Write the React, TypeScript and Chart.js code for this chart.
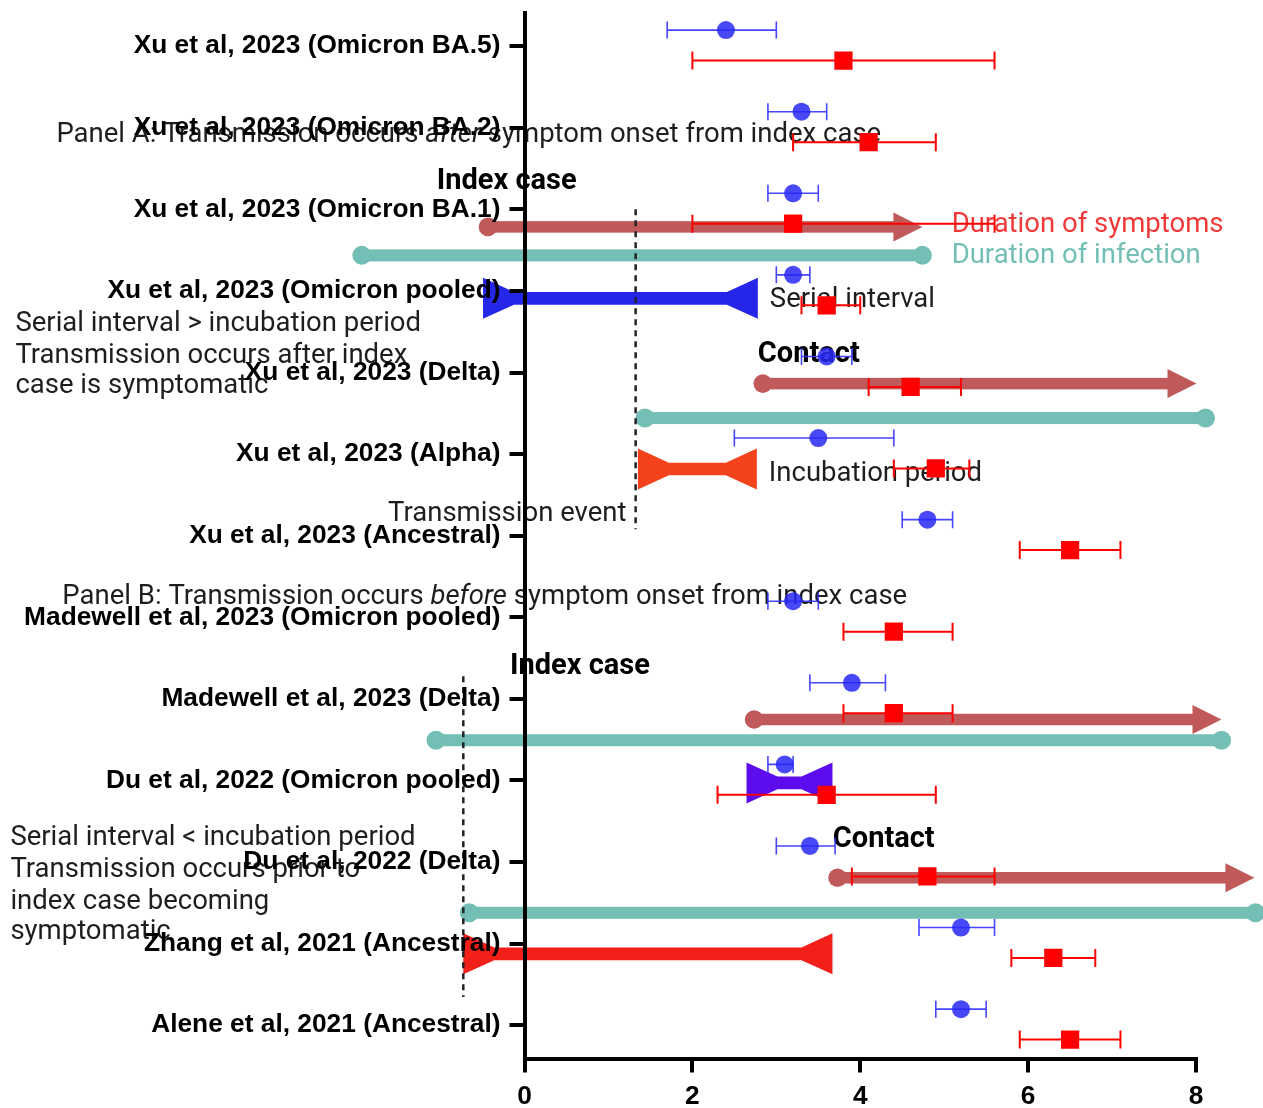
import React, { useEffect, useRef } from "react";
import { Chart, registerables } from "chart.js";

Chart.register(...registerables);

// ---------------- data ----------------
const studies = [
  "Xu et al, 2023 (Omicron BA.5)",
  "Xu et al, 2023 (Omicron BA.2)",
  "Xu et al, 2023 (Omicron BA.1)",
  "Xu et al, 2023 (Omicron pooled)",
  "Xu et al, 2023 (Delta)",
  "Xu et al, 2023 (Alpha)",
  "Xu et al, 2023 (Ancestral)",
  "Madewell et al, 2023 (Omicron pooled)",
  "Madewell et al, 2023 (Delta)",
  "Du et al, 2022 (Omicron pooled)",
  "Du et al, 2022 (Delta)",
  "Zhang et al, 2021 (Ancestral)",
  "Alene et al, 2021 (Ancestral)",
];

const serialMean = [2.4, 3.3, 3.2, 3.2, 3.6, 3.5, 4.8, 3.2, 3.9, 3.1, 3.4, 5.2, 5.2];
const serialLow = [1.7, 2.9, 2.9, 3.0, 3.3, 2.5, 4.5, 2.9, 3.4, 2.9, 3.0, 4.7, 4.9];
const serialHigh = [3.0, 3.6, 3.5, 3.4, 3.9, 4.4, 5.1, 3.5, 4.3, 3.2, 3.7, 5.6, 5.5];

const incubMean = [3.8, 4.1, 3.2, 3.6, 4.6, 4.9, 6.5, 4.4, 4.4, 3.6, 4.8, 6.3, 6.5];
const incubLow = [2.0, 3.2, 2.0, 3.3, 4.1, 4.4, 5.9, 3.8, 3.8, 2.3, 3.9, 5.8, 5.9];
const incubHigh = [5.6, 4.9, 5.6, 4.0, 5.2, 5.3, 7.1, 5.1, 5.1, 4.9, 5.6, 6.8, 7.1];

const xTicks = [0, 2, 4, 6, 8];

// ---------------- diagram annotations (in axis units) ----------------
const symptomArrows = [
  { x0: -0.435, x1: 4.74, y: 2.215 },
  { x0: 2.839, x1: 8.006, y: 4.136 },
  { x0: 2.736, x1: 8.304, y: 8.253 },
  { x0: 3.729, x1: 8.696, y: 10.193 },
];
const infectionLines = [
  { x0: -1.938, x1: 4.74, y: 2.564 },
  { x0: 1.435, x1: 8.113, y: 4.558 },
  { x0: -1.054, x1: 8.304, y: 8.507 },
  { x0: -0.657, x1: 8.708, y: 10.622 },
];
const intervalShapes = [
  { x0: -0.494, x1: 2.78, y: 3.091, color: "#2626e8" },
  { x0: 1.351, x1: 2.768, y: 5.183, color: "#f4431c" },
  { x0: 2.645, x1: 3.669, y: 9.03, color: "#5c0ced" },
  { x0: -0.729, x1: 3.669, y: 11.125, color: "#f31f19" },
];
const dottedLines = [
  { x: 1.324, y0: 2.0, y1: 5.92 },
  { x: -0.729, y0: 7.722, y1: 11.655 },
];

const TXT = "#1e1e1e";
const TEAL = "#74bfb5";
const DARKRED = "#c05959";
const SYMPRED = "#f03a3a";

type Part = [string, boolean];
const notes: { x: number; y: number; parts: Part[]; color: string; bold: boolean }[] = [
  { x: -5.577, y: 1.07, parts: [["Panel A: Transmission occurs ", false], ["after", true], [" symptom onset from index case", false]], color: TXT, bold: false },
  { x: -1.045, y: 1.637, parts: [["Index case", false]], color: "#000", bold: true },
  { x: 5.089, y: 2.169, parts: [["Duration of symptoms", false]], color: SYMPRED, bold: false },
  { x: 5.089, y: 2.552, parts: [["Duration of infection", false]], color: TEAL, bold: false },
  { x: 2.923, y: 3.087, parts: [["Serial interval", false]], color: TXT, bold: false },
  { x: -6.065, y: 3.381, parts: [["Serial interval > incubation period", false]], color: TXT, bold: false },
  { x: -6.065, y: 3.775, parts: [["Transmission occurs after index", false]], color: TXT, bold: false },
  { x: -6.065, y: 4.145, parts: [["case is symptomatic", false]], color: TXT, bold: false },
  { x: 2.78, y: 3.759, parts: [["Contact", false]], color: "#000", bold: true },
  { x: 2.911, y: 5.231, parts: [["Incubation period", false]], color: TXT, bold: false },
  { x: -1.625, y: 5.72, parts: [["Transmission event", false]], color: TXT, bold: false },
  { x: -5.506, y: 6.727, parts: [["Panel B: Transmission occurs ", false], ["before", true], [" symptom onset from index case", false]], color: TXT, bold: false },
  { x: -0.173, y: 7.579, parts: [["Index case", false]], color: "#000", bold: true },
  { x: -6.125, y: 9.685, parts: [["Serial interval < incubation period", false]], color: TXT, bold: false },
  { x: -6.125, y: 10.078, parts: [["Transmission occurs prior to", false]], color: TXT, bold: false },
  { x: -6.125, y: 10.472, parts: [["index case becoming", false]], color: TXT, bold: false },
  { x: -6.125, y: 10.844, parts: [["symptomatic", false]], color: TXT, bold: false },
  { x: 3.673, y: 9.703, parts: [["Contact", false]], color: "#000", bold: true },
];

const SERIAL_OFF = -0.197;
const INCUB_OFF = 0.176;

const diagramPlugin = {
  id: "diagram",
  beforeDraw(chart: any) {
    const { ctx, scales } = chart;
    const xs = scales.x, ys = scales.y;
    const X = (v: number) => xs.getPixelForValue(v);
    const Y = (v: number) => ys.getPixelForValue(v);
    ctx.save();
    ctx.fillStyle = "#ffffff";
    ctx.fillRect(0, 0, chart.width, chart.height);

    const circle = (cx: number, cy: number, r: number) => {
      ctx.beginPath();
      ctx.arc(cx, cy, r, 0, Math.PI * 2);
      ctx.fill();
    };

    // infection lines
    ctx.fillStyle = TEAL;
    for (const l of infectionLines) {
      const a = X(l.x0), b = X(l.x1), py = Y(l.y);
      ctx.fillRect(a, py - 6, b - a, 12);
      circle(a, py, 9.5);
      circle(b, py, 9.5);
    }
    // symptom arrows
    ctx.fillStyle = DARKRED;
    for (const s of symptomArrows) {
      const a = X(s.x0), tip = X(s.x1), py = Y(s.y);
      const head = 29;
      ctx.fillRect(a, py - 5.75, tip - head - a + 1, 11.5);
      ctx.beginPath();
      ctx.moveTo(tip - head, py - 14.5);
      ctx.lineTo(tip, py);
      ctx.lineTo(tip - head, py + 14.5);
      ctx.closePath();
      ctx.fill();
      circle(a, py, 9.3);
    }
    // interval shapes
    for (const s of intervalShapes) {
      const a = X(s.x0), b = X(s.x1), py = Y(s.y);
      const d = Math.min(31, (b - a) * 0.36), h = 20.5, t = 6.3;
      ctx.fillStyle = s.color;
      ctx.beginPath();
      ctx.moveTo(a, py - h);
      ctx.lineTo(a + d, py - t);
      ctx.lineTo(b - d, py - t);
      ctx.lineTo(b, py - h);
      ctx.lineTo(b, py + h);
      ctx.lineTo(b - d, py + t);
      ctx.lineTo(a + d, py + t);
      ctx.lineTo(a, py + h);
      ctx.closePath();
      ctx.fill();
    }
    // dotted lines
    ctx.strokeStyle = "#222";
    ctx.lineWidth = 2.5;
    ctx.setLineDash([6, 5]);
    for (const d of dottedLines) {
      const px = X(d.x);
      ctx.beginPath();
      ctx.moveTo(px, Y(d.y0));
      ctx.lineTo(px, Y(d.y1));
      ctx.stroke();
    }
    ctx.setLineDash([]);

    // texts
    ctx.textBaseline = "alphabetic";
    ctx.textAlign = "left";
    for (const n of notes) {
      const size = n.bold ? 29 : 27.5;
      let px = X(n.x);
      const py = Y(n.y) + size * 0.31;
      ctx.fillStyle = n.color;
      for (const [str, italic] of n.parts) {
        ctx.font = `${italic ? "italic " : ""}${n.bold ? "bold " : ""}${size}px Roboto, 'Noto Sans', sans-serif`;
        ctx.fillText(str, px, py);
        px += ctx.measureText(str).width;
      }
    }
    ctx.restore();
  },
};

const errorBarPlugin = {
  id: "errorBars",
  beforeDatasetsDraw(chart: any) {
    const { ctx, scales } = chart;
    const xs = scales.x, ys = scales.y;
    const draw = (lows: number[], highs: number[], off: number, color: string, width: number, cap: number) => {
      ctx.save();
      ctx.strokeStyle = color;
      ctx.lineWidth = width;
      lows.forEach((lo, i) => {
        const py = ys.getPixelForValue(i + off);
        const a = xs.getPixelForValue(lo);
        const b = xs.getPixelForValue(highs[i]);
        ctx.beginPath();
        ctx.moveTo(a, py);
        ctx.lineTo(b, py);
        ctx.moveTo(a, py - cap);
        ctx.lineTo(a, py + cap);
        ctx.moveTo(b, py - cap);
        ctx.lineTo(b, py + cap);
        ctx.stroke();
      });
      ctx.restore();
    };
    draw(serialLow, serialHigh, SERIAL_OFF, "rgba(50,50,255,0.9)", 1.6, 8.5);
    draw(incubLow, incubHigh, INCUB_OFF, "#ff0000", 2, 9);
  },
};

export default function App() {
  const ref = useRef<HTMLCanvasElement>(null);
  useEffect(() => {
    const tickFont = { family: "'Liberation Sans', Arial, sans-serif", weight: "bold" as const, size: 26.3 };
    const chart = new Chart(ref.current as HTMLCanvasElement, {
      type: "scatter",
      data: {
        datasets: [
          {
            label: "Serial interval",
            data: serialMean.map((v, i) => ({ x: v, y: i + SERIAL_OFF })),
            pointStyle: "circle",
            pointRadius: 9,
            backgroundColor: "rgba(40,40,245,0.85)",
            borderWidth: 0,
          },
          {
            label: "Incubation period",
            data: incubMean.map((v, i) => ({ x: v, y: i + INCUB_OFF })),
            pointStyle: "rect",
            pointRadius: 12.9,
            backgroundColor: "#ff0000",
            borderWidth: 0,
          },
        ],
      },
      options: {
        responsive: false,
        animation: false,
        devicePixelRatio: 1,
        layout: { padding: { top: 4.5, right: 67, left: 0, bottom: 0 } },
        plugins: { legend: { display: false }, tooltip: { enabled: false } },
        scales: {
          x: {
            type: "linear",
            min: 0,
            max: 8,
            afterBuildTicks: (s: any) => {
              s.ticks = xTicks.map((v) => ({ value: v }));
            },
            afterFit: (s: any) => {
              s.height = 49.5;
              s.paddingLeft = 0;
              s.paddingRight = 0;
            },
            ticks: { font: tickFont, color: "#000", padding: 8, autoSkip: false },
            grid: { display: true, drawOnChartArea: false, drawTicks: true, tickLength: 14, tickWidth: 4, tickColor: "#000", color: "#000", lineWidth: 4 },
            border: { display: true, color: "#000", width: 4 },
          },
          y: {
            type: "linear",
            reverse: true,
            min: -0.408,
            max: 12.408,
            afterBuildTicks: (s: any) => {
              s.ticks = studies.map((_, i) => ({ value: i }));
            },
            afterFit: (s: any) => {
              s.width = 524.5;
              s.paddingTop = 0;
              s.paddingBottom = 0;
            },
            ticks: {
              font: tickFont,
              color: "#000",
              padding: 9,
              autoSkip: false,
              callback: (v: any) => studies[Math.round(Number(v))],
            },
            grid: { display: true, drawOnChartArea: false, drawTicks: true, tickLength: 15, tickWidth: 4, tickColor: "#000", color: "#000", lineWidth: 4 },
            border: { display: true, color: "#000", width: 4 },
          },
        },
      },
      plugins: [diagramPlugin, errorBarPlugin],
    } as any);
    return () => chart.destroy();
  }, []);
  return (
    <div style={{ position: "absolute", left: 0, top: 0, width: 1263, height: 1108, background: "#fff", overflow: "hidden" }}>
      <canvas ref={ref} width={1263} height={1108} style={{ display: "block", width: 1263, height: 1108 }} />
    </div>
  );
}
